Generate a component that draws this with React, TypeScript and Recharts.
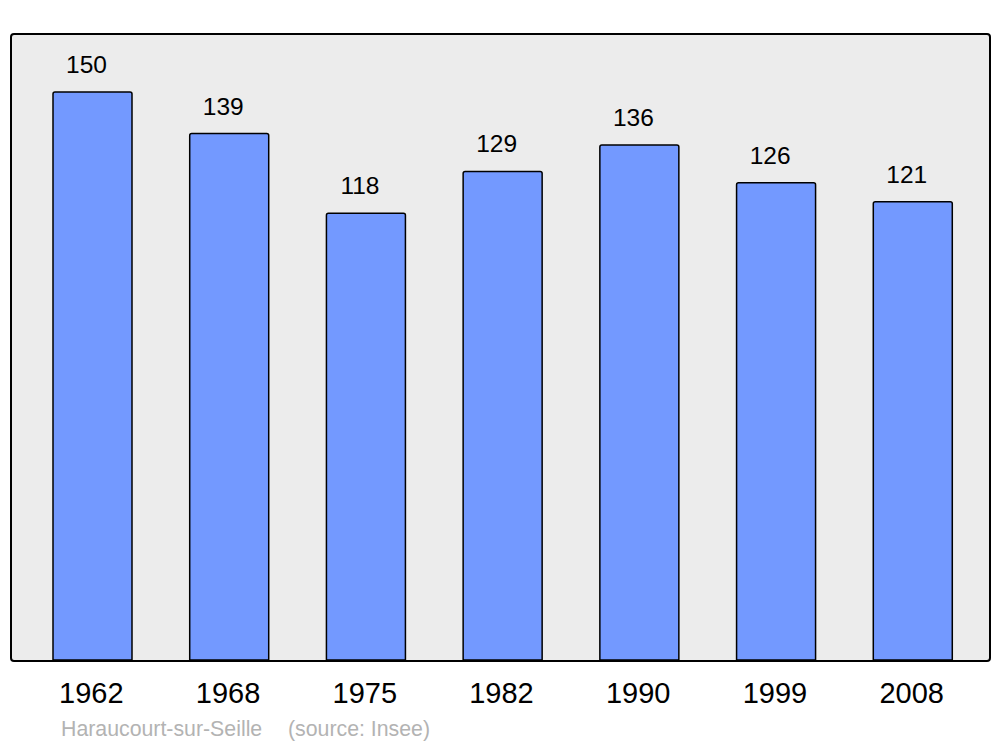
import { BarChart, Bar, XAxis, YAxis, LabelList } from "recharts";

const years = ["1962", "1968", "1975", "1982", "1990", "1999", "2008"];
const population = [150, 139, 118, 129, 136, 126, 121];
const yMax = 165.3;

const data = years.map((year, i) => ({ year, pop: population[i] }));

const FONT = "'Liberation Sans', Arial, sans-serif";

const YearTick = ({ x, y, payload }: any) => (
  <text x={x - 1} y={y + 35} textAnchor="middle" fontSize={29} fontFamily={FONT} fill="#000">
    {payload.value}
  </text>
);

// value labels sit slightly left of the bar centre in the original
const ValueLabel = ({ x, y, width, value }: any) => (
  <text x={x + width / 2 - 6} y={y - 19} textAnchor="middle" fontSize={24.5} fontFamily={FONT} fill="#000">
    {value}
  </text>
);

export default function App() {
  return (
    <div style={{ position: "absolute", left: 0, top: 0, width: 1000, height: 747, background: "#fff" }}>
      {/* plot frame */}
      <div
        style={{
          position: "absolute",
          left: 10,
          top: 33,
          width: 977,
          height: 625,
          background: "#ececec",
          border: "2.5px solid #000",
          borderRadius: 4,
        }}
      />
      <div style={{ position: "absolute", left: 0, top: 0 }}>
        <BarChart
          width={1000}
          height={747}
          data={data}
          margin={{ top: 34, right: 11, bottom: 0, left: 11 }}
          barCategoryGap={0}
        >
          <XAxis
            dataKey="year"
            axisLine={false}
            tickLine={false}
            padding={{ left: 13, right: 8 }}
            tick={<YearTick />}
            interval={0}
            height={87}
          />
          <YAxis hide domain={[0, yMax]} />
          <Bar
            dataKey="pop"
            barSize={79}
            fill="#7399ff"
            stroke="#000"
            strokeWidth={1.5}
            radius={[2, 2, 0, 0]}
            isAnimationActive={false}
          >
            <LabelList dataKey="pop" content={<ValueLabel />} />
          </Bar>
        </BarChart>
      </div>
      <div style={{ position: "absolute", left: 61, top: 717, fontFamily: FONT, fontSize: 21.3, color: "#b3b3b3", whiteSpace: "pre" }}>
        Haraucourt-sur-Seille
      </div>
      <div style={{ position: "absolute", left: 288, top: 717, fontFamily: FONT, fontSize: 21.3, color: "#b3b3b3", whiteSpace: "pre" }}>
        (source: Insee)
      </div>
    </div>
  );
}
